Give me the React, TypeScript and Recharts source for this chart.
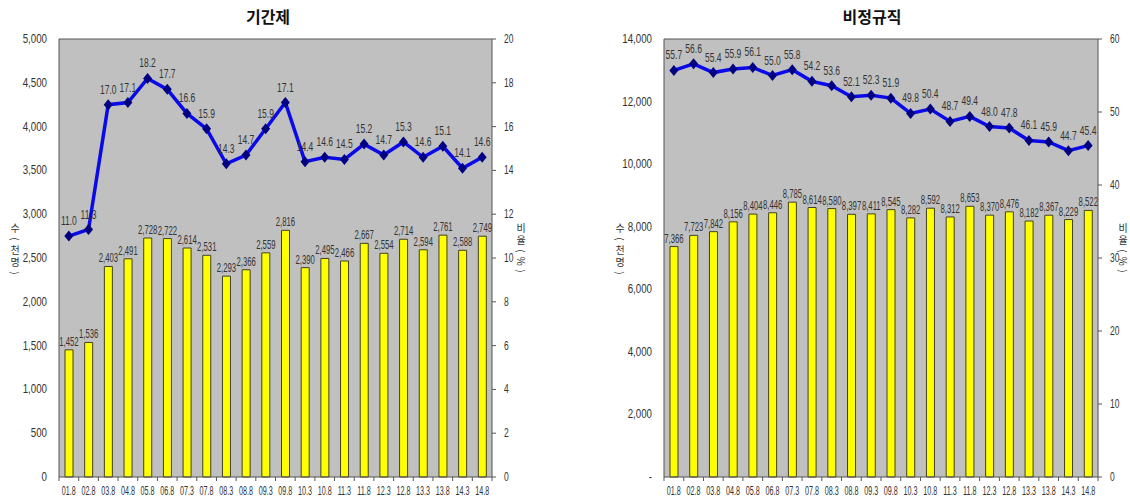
import React from 'react';
import { ComposedChart, Bar, Line, XAxis, YAxis, CartesianGrid, LabelList, ReferenceLine } from 'recharts';

const categories = ['01.8', '02.8', '03.8', '04.8', '05.8', '06.8', '07.3', '07.8', '08.3', '08.8', '09.3', '09.8', '10.3', '10.8', '11.3', '11.8', '12.3', '12.8', '13.3', '13.8', '14.3', '14.8'];

const temporaryCount = [1452, 1536, 2403, 2491, 2728, 2722, 2614, 2531, 2293, 2366, 2559, 2816, 2390, 2495, 2466, 2667, 2554, 2714, 2594, 2761, 2588, 2749];
const temporaryRatio = [11.0, 11.3, 17.0, 17.1, 18.2, 17.7, 16.6, 15.9, 14.3, 14.7, 15.9, 17.1, 14.4, 14.6, 14.5, 15.2, 14.7, 15.3, 14.6, 15.1, 14.1, 14.6];

const nonRegularCount = [7366, 7723, 7842, 8156, 8404, 8446, 8785, 8614, 8580, 8397, 8411, 8545, 8282, 8592, 8312, 8653, 8370, 8476, 8182, 8367, 8229, 8522];
const nonRegularRatio = [55.7, 56.6, 55.4, 55.9, 56.1, 55.0, 55.8, 54.2, 53.6, 52.1, 52.3, 51.9, 49.8, 50.4, 48.7, 49.4, 48.0, 47.8, 46.1, 45.9, 44.7, 45.4];

const leftTicksA = [0, 500, 1000, 1500, 2000, 2500, 3000, 3500, 4000, 4500, 5000];
const rightTicksA = [0, 2, 4, 6, 8, 10, 12, 14, 16, 18, 20];
const leftTicksB = [0, 2000, 4000, 6000, 8000, 10000, 12000, 14000];
const rightTicksB = [0, 10, 20, 30, 40, 50, 60];

const FONT = "'Liberation Sans', Arial, sans-serif";
const TEXT = '#333333';

const fmt = (v: number) => v.toLocaleString('en-US');

const NarrowText = ({ x, y, anchor, size, sx, children }: { x: number; y: number; anchor: string; size: number; sx: number; children: any }) => (
  <text
    transform={`translate(${x},${y}) scale(${sx},1)`}
    x={0}
    y={0}
    textAnchor={anchor}
    fill={TEXT}
    fontSize={size}
    fontFamily={FONT}
  >
    {children}
  </text>
);

const Diamond = (props: any) => {
  const { cx, cy } = props;
  if (cx == null || cy == null) return null;
  return (
    <polygon
      points={`${cx},${cy - 5.5} ${cx + 4.5},${cy} ${cx},${cy + 5.5} ${cx - 4.5},${cy}`}
      fill="#000080"
      stroke="none"
    />
  );
};

const makeLabel = (offset: number, size: number, sx: number, format: (v: number) => string) => (props: any) => {
  const { x, y, width, value } = props;
  if (value == null) return null;
  const cx = width != null ? x + width / 2 : x;
  return (
    <NarrowText x={cx} y={y - offset} anchor="middle" size={size} sx={sx}>
      {format(Number(value))}
    </NarrowText>
  );
};

const barLabel = makeLabel(4, 12.5, 0.62, (v) => fmt(v));
const lineLabel = makeLabel(11, 12.5, 0.68, (v) => v.toFixed(1));

type PanelProps = {
  counts: number[];
  ratios: number[];
  leftTicks: number[];
  rightTicks: number[];
  leftWidth: number;
  rightWidth: number;
  width: number;
  zeroDash?: boolean;
};

const Panel = ({ counts, ratios, leftTicks, rightTicks, leftWidth, rightWidth, width, zeroDash }: PanelProps) => {
  const data = categories.map((c, i) => ({ cat: c, count: counts[i], ratio: ratios[i] }));
  const plotW = width - leftWidth - rightWidth;
  const band = plotW / categories.length;
  const leftMax = leftTicks[leftTicks.length - 1];
  const rightMax = rightTicks[rightTicks.length - 1];

  const XTick = (props: any) => {
    const { x, y, payload, index } = props;
    const bx = x - band / 2;
    return (
      <g>
        <line x1={bx} y1={y - 8} x2={bx} y2={y - 4} stroke="#555" />
        {index === categories.length - 1 ? (
          <line x1={bx + band} y1={y - 8} x2={bx + band} y2={y - 4} stroke="#555" />
        ) : null}
        <NarrowText x={x} y={y + 10} anchor="middle" size={12} sx={0.6}>
          {payload.value}
        </NarrowText>
      </g>
    );
  };

  const LeftTick = (props: any) => {
    const { x, y, payload } = props;
    const v = payload.value;
    return (
      <NarrowText x={x} y={y + 4} anchor="end" size={12.5} sx={0.78}>
        {zeroDash && v === 0 ? '-' : fmt(v)}
      </NarrowText>
    );
  };

  const RightTick = (props: any) => {
    const { x, y, payload } = props;
    return (
      <NarrowText x={x} y={y + 4} anchor="start" size={12.5} sx={0.68}>
        {String(payload.value)}
      </NarrowText>
    );
  };

  return (
    <ComposedChart
      width={width}
      height={499}
      data={data}
      margin={{ top: 39, right: 0, bottom: 0, left: 0 }}
    >
      <CartesianGrid fill="#C0C0C0" horizontal={false} vertical={false} />
      <XAxis
        dataKey="cat"
        height={22}
        tickLine={false}
        axisLine={{ stroke: '#555' }}
        tick={<XTick />}
        interval={0}
      />
      <YAxis
        yAxisId="left"
        orientation="left"
        width={leftWidth}
        domain={[0, leftMax]}
        ticks={leftTicks}
        tickLine={false}
        axisLine={{ stroke: '#555' }}
        tick={<LeftTick />}
        tickMargin={6}
        interval={0}
      />
      <YAxis
        yAxisId="right"
        orientation="right"
        width={rightWidth}
        domain={[0, rightMax]}
        ticks={rightTicks}
        tickLine={{ stroke: '#555' }}
        tickSize={4}
        axisLine={{ stroke: '#555' }}
        tick={<RightTick />}
        tickMargin={8}
        interval={0}
      />
      <ReferenceLine yAxisId="left" y={leftMax} stroke="#555" />
      <Bar yAxisId="left" dataKey="count" barSize={8} fill="#FFFF00" stroke="#404020" strokeWidth={1} isAnimationActive={false}>
        <LabelList dataKey="count" content={barLabel} />
      </Bar>
      <Line
        yAxisId="right"
        dataKey="ratio"
        stroke="#0A0AE8"
        strokeWidth={3.5}
        dot={<Diamond />}
        activeDot={false}
        isAnimationActive={false}
      >
        <LabelList dataKey="ratio" content={lineLabel} />
      </Line>
    </ComposedChart>
  );
};

const VLabel = ({ text, x, y }: { text: string; x: number; y: number }) => (
  <div
    style={{
      position: 'absolute',
      left: x,
      top: y,
      width: 12,
      fontSize: 10,
      fontFamily: "'Noto Sans CJK KR', sans-serif",
      color: TEXT,
    }}
  >
    {Array.from(text).map((ch, i) =>
      ch === '(' || ch === ')' || ch === '%' ? (
        <div key={i} style={{ height: 10, lineHeight: '10px', textAlign: 'center', transform: 'rotate(90deg)' }}>
          {ch}
        </div>
      ) : (
        <div key={i} style={{ height: 12, lineHeight: '12px', textAlign: 'center' }}>
          {ch}
        </div>
      )
    )}
  </div>
);

const Title = ({ text, cx }: { text: string; cx: number }) => (
  <div
    style={{
      position: 'absolute',
      left: cx - 100,
      width: 200,
      top: 4,
      textAlign: 'center',
      fontSize: 16,
      fontWeight: 'bold',
      fontFamily: "'Noto Sans CJK KR', sans-serif",
      color: '#111',
    }}
  >
    {text}
  </div>
);

export default function App() {
  return (
    <div style={{ position: 'absolute', left: 0, top: 0, width: 1130, height: 499, background: '#fff', overflow: 'hidden' }}>
      <div style={{ position: 'absolute', left: 0, top: 0 }}>
        <Panel
          counts={temporaryCount}
          ratios={temporaryRatio}
          leftTicks={leftTicksA}
          rightTicks={rightTicksA}
          leftWidth={59}
          rightWidth={73}
          width={565}
        />
      </div>
      <div style={{ position: 'absolute', left: 565, top: 0 }}>
        <Panel
          counts={nonRegularCount}
          ratios={nonRegularRatio}
          leftTicks={leftTicksB}
          rightTicks={rightTicksB}
          leftWidth={99}
          rightWidth={32}
          width={565}
          zeroDash
        />
      </div>
      <Title text="기간제" cx={268} />
      <Title text="비정규직" cx={872} />
      <VLabel text="수(천명)" x={9} y={222} />
      <VLabel text="비율(%)" x={515} y={222} />
      <VLabel text="수(천명)" x={614} y={222} />
      <VLabel text="비율(%)" x={1117} y={222} />
    </div>
  );
}
